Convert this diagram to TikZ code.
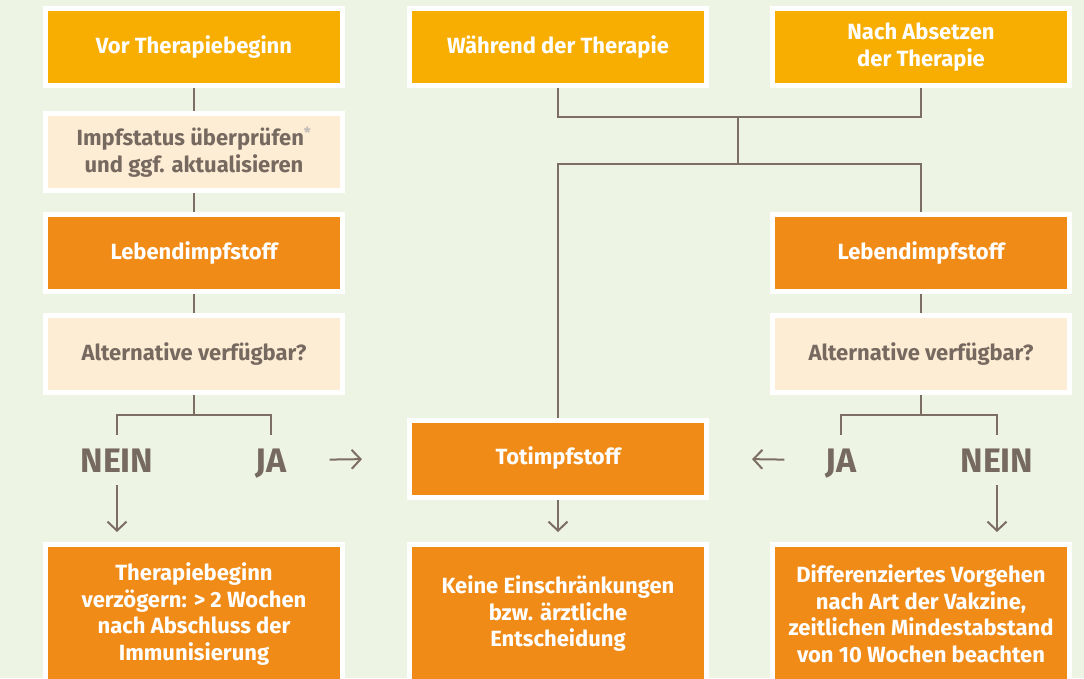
\documentclass[tikz,border=0pt]{standalone}
\usepackage{fontspec}
\setmainfont{Fira Sans}
\usepackage{tikz}
\usetikzlibrary{arrows.meta,positioning,calc}
\usepackage{xcolor}
\definecolor{bggreen}{RGB}{238,244,227}
\definecolor{phaseyellow}{RGB}{248,174,0}
\definecolor{steporange}{RGB}{240,139,24}
\definecolor{checkcream}{RGB}{254,237,213}
\definecolor{textbrown}{RGB}{118,105,95}
\definecolor{linebrown}{RGB}{124,110,99}
\tikzstyle{phasebox} = [rectangle, minimum width=297pt, minimum height=77pt, align=center, draw=white, line width=5pt, fill=phaseyellow, text=white, font=\fontsize{22}{26.5}\selectfont\bfseries]
\tikzstyle{vaccbox} = [phasebox, fill=steporange]
\tikzstyle{checkbox} = [phasebox, fill=checkcream, text=textbrown]
\tikzstyle{resultbox} = [phasebox, fill=steporange, minimum height=139pt]
\tikzstyle{answer} = [inner xsep=14pt, inner ysep=13pt, text height=24pt, text depth=0pt, text=textbrown, font=\fontsize{34}{40}\selectfont\bfseries]
\tikzstyle{line} = [line width=2pt, color=linebrown]
\tikzstyle{arrow} = [line, -{Straight Barb[length=9pt,width=19pt,line width=2pt]}]

\begin{document}
\begin{tikzpicture}[x=1pt, y=-1pt, node distance=19pt]
\useasboundingbox (0,0) rectangle (1084,678);
\clip (0,0) rectangle (1084,678);
\fill[bggreen] (0,0) rectangle (1084,678);

% Phasen
\node[phasebox] (vor) at (194,47) {Vor Therapiebeginn};
\node[phasebox, right=62pt of vor] (waehrend) {Während der Therapie};
\node[phasebox, right=61pt of waehrend] (nach) {Nach Absetzen\\der Therapie};

% vor Therapiebeginn
\node[checkbox, below=23pt of vor] (impf) {Impfstatus überprüfen\textsuperscript{\textcolor{textbrown!45}{*}}\\und ggf. aktualisieren};
\node[vaccbox, below=of impf] (lebendL) {Lebendimpfstoff};
\node[checkbox, below=of lebendL] (altL) {Alternative verfügbar?};

% nach Absetzen
\node[vaccbox] (lebendR) at (nach |- lebendL) {Lebendimpfstoff};
\node[checkbox] (altR) at (nach |- altL) {Alternative verfügbar?};

% Totimpfstoff
\node[vaccbox] (totimpf) at (558,458.5) {Totimpfstoff};

% Antworten
\node[answer] (neinL) at (117,460) {NEIN};
\node[answer] (jaL) at (271,460) {JA};
\node[answer] (jaR) at (841,460) {JA};
\node[answer] (neinR) at (997,460) {NEIN};

% Ergebnisse
\node[resultbox, below=147pt of altL] (resL) {Therapiebeginn\\verzögern: > 2 Wochen\\nach Abschluss der\\Immunisierung};
\node[resultbox] (resM) at (totimpf |- resL) {Keine Einschränkungen\\bzw. ärztliche\\Entscheidung};
\node[resultbox] (resR) at (nach |- resL) {Differenziertes Vorgehen\\nach Art der Vakzine,\\zeitlichen Mindestabstand\\von 10 Wochen beachten};

% Verbindungen
\coordinate (joinTop) at (738,117);
\coordinate (joinLow) at (738,164);
\coordinate (splitL) at ($(altL.south)+(0,20)$);
\coordinate (splitR) at ($(altR.south)+(0,20)$);

\draw[line] (vor) -- (impf);
\draw[line] (impf) -- (lebendL);
\draw[line] (lebendL) -- (altL);
\draw[line] (waehrend.south) |- (joinTop) -| (nach.south);
\draw[line] (joinTop) -- (joinLow);
\draw[line] (totimpf.north) |- (joinLow) -| (lebendR.north);
\draw[line] (lebendR) -- (altR);

\draw[line] (altL.south) -- (splitL);
\draw[line] (neinL.north) |- (splitL) -| (jaL.north);
\draw[line] (altR.south) -- (splitR);
\draw[line] (jaR.north) |- (splitR) -| (neinR.north);

\draw[arrow] (neinL.south) -- ([yshift=10pt]resL.north -| neinL);
\draw[arrow] (neinR.south) -- ([yshift=10pt]resR.north -| neinR);
\draw[arrow] (totimpf.south) -- ([yshift=10pt]resM.north);
\draw[arrow, shorten <=29pt, shorten >=45pt] (jaL.east) -- (totimpf.west);
\draw[arrow, shorten <=27pt, shorten >=43pt] (jaR.west) -- (totimpf.east);
\end{tikzpicture}
\end{document}
